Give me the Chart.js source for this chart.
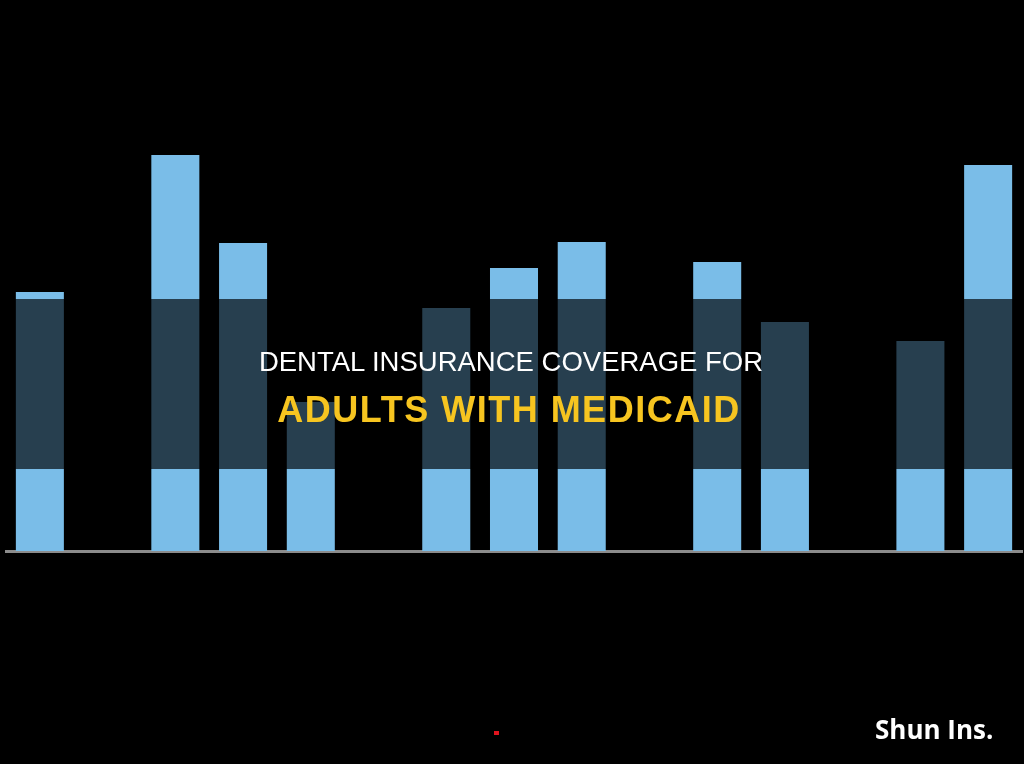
<!DOCTYPE html>
<html>
<head>
<meta charset="utf-8">
<script src="https://cdn.jsdelivr.net/npm/chart.js@4/dist/chart.umd.min.js"></script>
<style>
  html, body { margin: 0; padding: 0; background: #000; }
  #wrap { position: relative; width: 1024px; height: 764px; background: #000; overflow: hidden; }
  #c { position: absolute; left: 0; top: 0; }
  .t1 { position: absolute; left: 0; width: 1022px; text-align: center; top: 346px; font-family: "Liberation Sans", Arial, sans-serif; font-size: 27.5px; color: #ffffff; line-height: 32px; white-space: nowrap; }
  .t2 { position: absolute; left: 0; width: 1018px; text-align: center; top: 391px; font-family: "Liberation Sans", Arial, sans-serif; font-weight: bold; font-size: 36px; letter-spacing: 1.5px; color: #f7c520; line-height: 38px; white-space: nowrap; }
  .brand { position: absolute; left: 875px; top: 710px; font-family: "Open Sans", "Noto Sans", sans-serif; font-weight: bold; font-size: 26px; color: #ffffff; line-height: 38px; white-space: nowrap; }
  .dot { position: absolute; left: 494px; top: 731px; width: 5px; height: 4px; background: #e0141e; }
</style>
</head>
<body>
<div id="wrap">
  <canvas id="c" width="1024" height="764"></canvas>
  <div class="t1">DENTAL INSURANCE COVERAGE FOR</div>
  <div class="t2">ADULTS WITH MEDICAID</div>
  <div class="brand">Shun Ins.</div>
  <div class="dot"></div>
</div>
<script>
// 15 category slots (empty slots have value 0)
const categories = ["1","2","3","4","5","6","7","8","9","10","11","12","13","14","15"];
const barHeights = [259, 0, 396, 308, 149, 0, 243, 283, 309, 0, 289, 229, 0, 210, 386];
// dark band limits (in value units)
const bandLow = 82;
const bandHigh = 252;

const lowerPart = barHeights.map(v => Math.min(v, bandLow));
const bandPart  = barHeights.map(v => Math.max(0, Math.min(v, bandHigh) - bandLow));
const upperPart = barHeights.map(v => Math.max(0, v - bandHigh));

const lightBlue = "#7abde8";
const darkBand = "#273f4f";

const common = { barPercentage: 0.709, categoryPercentage: 1.0, borderWidth: 0 };

new Chart(document.getElementById("c"), {
  type: "bar",
  data: {
    labels: categories,
    datasets: [
      Object.assign({ label: "low", data: lowerPart, backgroundColor: lightBlue }, common),
      Object.assign({ label: "band", data: bandPart, backgroundColor: darkBand }, common),
      Object.assign({ label: "high", data: upperPart, backgroundColor: lightBlue }, common)
    ]
  },
  options: {
    responsive: false,
    animation: false,
    events: [],
    layout: { padding: { left: 6, right: 2, top: 0, bottom: 213 } },
    plugins: { legend: { display: false }, tooltip: { enabled: false }, title: { display: false } },
    scales: {
      x: {
        stacked: true,
        offset: true,
        z: 1,
        ticks: { display: false },
        grid: { display: false, drawTicks: false },
        border: { display: true, color: "#8c8c8c", width: 3 }
      },
      y: {
        stacked: true,
        display: false,
        min: 0,
        max: 551
      }
    }
  }
});
</script>
</body>
</html>
